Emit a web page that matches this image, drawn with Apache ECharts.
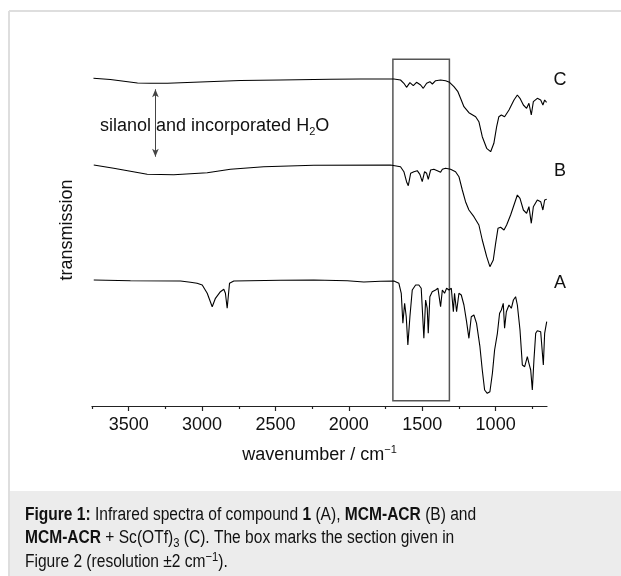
<!DOCTYPE html>
<html>
<head>
<meta charset="utf-8">
<script src="https://cdn.jsdelivr.net/npm/echarts@6/dist/echarts.min.js"></script>
<style>
html,body{margin:0;padding:0;background:#fff;}
#chart{width:621px;height:576px;}
</style>
</head>
<body>
<div id="chart"></div>
<script>
// ---- data (wavenumber in cm^-1, transmission in arbitrary offset units) ----
const majorTicks = [3500, 3000, 2500, 2000, 1500, 1000];
const minorTicks = [3750, 3250, 2750, 2250, 1750, 1250, 750];

const wnA = [3738,3488,3147,3079,3034,2999,2965,2931,2909,2875,2852,2841,2829,2813,2784,2466,2239,2011,1898,1784,1693,1659,1643,1632,1620,1609,1598,1584,1568,1545,1523,1507,1489,1477,1466,1459,1448,1432,1409,1393,1375,1363,1348,1334,1318,1302,1288,1280,1266,1250,1234,1216,1198,1182,1166,1148,1130,1107,1091,1075,1057,1039,1022,1007,988,973,961,948,939,927,909,893,879,864,852,834,818,802,784,773,761,750,739,727,716,693,682,675,666,652];
const trA = [126,125.3,125,123.7,122.7,121,112.7,99.3,107.7,114.3,116.7,112.7,97.7,122.7,125,125.7,126,125.3,124,124.7,125,122.7,112.7,82.7,102.7,89.3,61,89.3,116,121,121,117.7,67.7,106,97.7,72.7,109.3,114.3,116,117.7,99.3,116,112.7,117.7,116,117.7,94.3,112.7,94.3,112.7,111,101,84.3,67.7,89.3,91,82.7,59.3,36,16,12.7,14.3,32.7,56,72.7,92.7,96,102.7,77.7,94.3,101,97.7,106,109.3,101,76,41,39.3,49.3,42.7,36,16,46,72.7,75.3,74.3,72.7,41,72.7,84.3];

const wnB = [3738,3602,3374,3193,2965,2807,2580,2239,1716,1704,1648,1625,1607,1595,1579,1557,1534,1516,1500,1484,1470,1459,1443,1421,1397,1375,1363,1341,1307,1273,1250,1227,1205,1182,1148,1114,1091,1061,1039,1016,1000,984,966,943,925,898,875,852,834,811,789,773,757,743,716,693,678,666,652];
const trB = [241,237.7,231.7,231.3,233.3,236.7,239.3,240.7,241,241,239.3,234.3,224.3,220.3,232.7,234.3,235.3,231.7,224.3,234.3,232.7,226.7,236,236.7,235.3,233.7,236.7,237.7,236.7,234.3,229.3,216,204.3,196,189.3,181,166,149.3,139.3,146,162.7,177.7,178.7,176,181,191,201,211,207.7,196,192.7,199.3,182.7,199.3,206,204.3,196,206,206.7];

const wnC = [3740,3625,3440,3352,3236,3011,2738,2466,2125,1920,1716,1693,1648,1625,1607,1584,1561,1539,1511,1493,1470,1448,1431,1409,1375,1341,1314,1284,1257,1239,1216,1182,1136,1114,1091,1061,1034,1012,993,978,961,939,909,875,852,834,811,789,773,757,743,716,693,678,666,653];
const trC = [327.7,326.5,323,322.7,322.7,324,325.5,326,326.7,327,327,327,326,322.7,318.7,323.3,320.3,323.7,321,317.7,322.7,324.3,322,325.3,326,325.3,323.7,319.3,314.3,307.7,299.3,293.3,289.3,284.3,269.3,257.7,254.3,262.7,279.3,289.3,291,289.3,296,306,311,307.7,301,297.7,302.7,291,304.3,307.7,306,301,306,303.7];

const boxWn = [1700, 1315];      // section shown in Figure 2
const boxTr = [5.3, 346.7];
const arrowWn = 3318;            // silanol / H2O arrow
const arrowTr = [316.7, 249.3];

const xRange = [650, 3750];
const yRange = [0, 352];

function zip(a, b) { return a.map((v, i) => [v, b[i]]); }

const FONT = 'Liberation Sans, Arial, sans-serif';
const chart = echarts.init(document.getElementById('chart'), null, {renderer: 'canvas'});

const lineStyle = {color: '#000', width: 1.1};
function spectrum(name, wn, tr, extra) {
  return Object.assign({
    name: name, type: 'line', data: zip(wn, tr), showSymbol: false, symbol: 'none',
    lineStyle: lineStyle, silent: true, animation: false, z: 3
  }, extra || {});
}

const capStyle = (text, rich) => ({
  text: text, fontFamily: FONT, fontSize: 18, fill: '#111', verticalAlign: 'middle', rich: rich
});
const CAP_SCALE = 0.864;

const option = {
  animation: false,
  backgroundColor: '#fff',
  grid: {left: 92, right: 74, top: 54, bottom: 170},
  xAxis: [{
    type: 'value', inverse: true, min: xRange[0], max: xRange[1],
    name: 'wavenumber / cm{sup|−1}', nameLocation: 'middle', nameGap: 38,
    nameTextStyle: {fontFamily: FONT, fontSize: 18, color: '#111',
      rich: {sup: {fontFamily: FONT, fontSize: 11, color: '#111', padding: [0, 0, 12, 0]}}},
    axisLine: {show: true, lineStyle: {color: '#222', width: 1.2}},
    axisTick: {show: true, customValues: majorTicks, length: 5, inside: false, lineStyle: {color: '#222', width: 1.2}},
    axisLabel: {show: true, customValues: majorTicks, margin: 10, fontFamily: FONT, fontSize: 18, color: '#111',
      formatter: v => String(v)},
    splitLine: {show: false}
  }, {
    type: 'value', inverse: true, min: xRange[0], max: xRange[1], position: 'bottom',
    axisLine: {show: false},
    axisTick: {show: true, customValues: minorTicks, length: 3, lineStyle: {color: '#222', width: 1.2}},
    axisLabel: {show: false},
    splitLine: {show: false}
  }],
  yAxis: {
    type: 'value', min: yRange[0], max: yRange[1],
    name: 'transmission', nameLocation: 'middle', nameGap: 16, nameRotate: 90,
    nameTextStyle: {fontFamily: FONT, fontSize: 18, color: '#111'},
    axisLine: {show: false}, axisTick: {show: false}, axisLabel: {show: false}, splitLine: {show: false}
  },
  series: [
    spectrum('A', wnA, trA, {
      markArea: {
        silent: true,
        itemStyle: {color: 'rgba(0,0,0,0)', borderColor: '#555', borderWidth: 1.5},
        data: [[{xAxis: boxWn[0], yAxis: boxTr[0]}, {xAxis: boxWn[1], yAxis: boxTr[1]}]]
      }
    }),
    spectrum('B', wnB, trB),
    spectrum('C', wnC, trC, {
      markLine: {
        silent: true, symbol: ['arrow', 'arrow'], symbolSize: [5, 8],
        lineStyle: {color: '#444', width: 1, type: 'solid'},
        label: {show: false},
        data: [[{coord: [arrowWn, arrowTr[0]]}, {coord: [arrowWn, arrowTr[1]]}]]
      }
    })
  ],
  graphic: [
    {type: 'line', shape: {x1: 9, y1: 11, x2: 621, y2: 11}, style: {stroke: '#dedede', lineWidth: 2}, silent: true},
    {type: 'line', shape: {x1: 9, y1: 11, x2: 9, y2: 576}, style: {stroke: '#dedede', lineWidth: 2}, silent: true},
    {type: 'rect', shape: {x: 10, y: 491, width: 611, height: 85}, style: {fill: '#ececec'}, silent: true, z: -1},
    {type: 'text', x: 560, y: 80, style: {text: 'C', fontFamily: FONT, fontSize: 18, fill: '#111', align: 'center', verticalAlign: 'middle'}},
    {type: 'text', x: 560, y: 171, style: {text: 'B', fontFamily: FONT, fontSize: 18, fill: '#111', align: 'center', verticalAlign: 'middle'}},
    {type: 'text', x: 560, y: 283, style: {text: 'A', fontFamily: FONT, fontSize: 18, fill: '#111', align: 'center', verticalAlign: 'middle'}},
    {type: 'text', x: 100, y: 126, z: 10, style: {
      text: 'silanol and incorporated H{sub|2}O', fontFamily: FONT, fontSize: 18, fill: '#111',
      align: 'left', verticalAlign: 'middle',
      rich: {sub: {fontFamily: FONT, fontSize: 11, fill: '#111', padding: [12, 0, 0, 0]}}
    }},
    {type: 'text', x: 25, y: 515, scaleX: CAP_SCALE, style: capStyle(
      '{b|Figure 1:} Infrared spectra of compound {b|1} (A), {b|MCM-ACR} (B) and',
      {b: {fontFamily: FONT, fontSize: 18, fontWeight: 'bold', fill: '#111'}})},
    {type: 'text', x: 25, y: 538, scaleX: CAP_SCALE, style: capStyle(
      '{b|MCM-ACR} + Sc(OTf){sub|3} (C). The box marks the section given in',
      {b: {fontFamily: FONT, fontSize: 18, fontWeight: 'bold', fill: '#111'},
       sub: {fontFamily: FONT, fontSize: 13, fill: '#111', padding: [10, 0, 0, 0]}})},
    {type: 'text', x: 25, y: 562, scaleX: CAP_SCALE, style: capStyle(
      'Figure 2 (resolution ±2 cm{sup|−1}).',
      {sup: {fontFamily: FONT, fontSize: 13, fill: '#111', padding: [0, 0, 10, 0]}})}
  ]
};
chart.setOption(option);
</script>
</body>
</html>
